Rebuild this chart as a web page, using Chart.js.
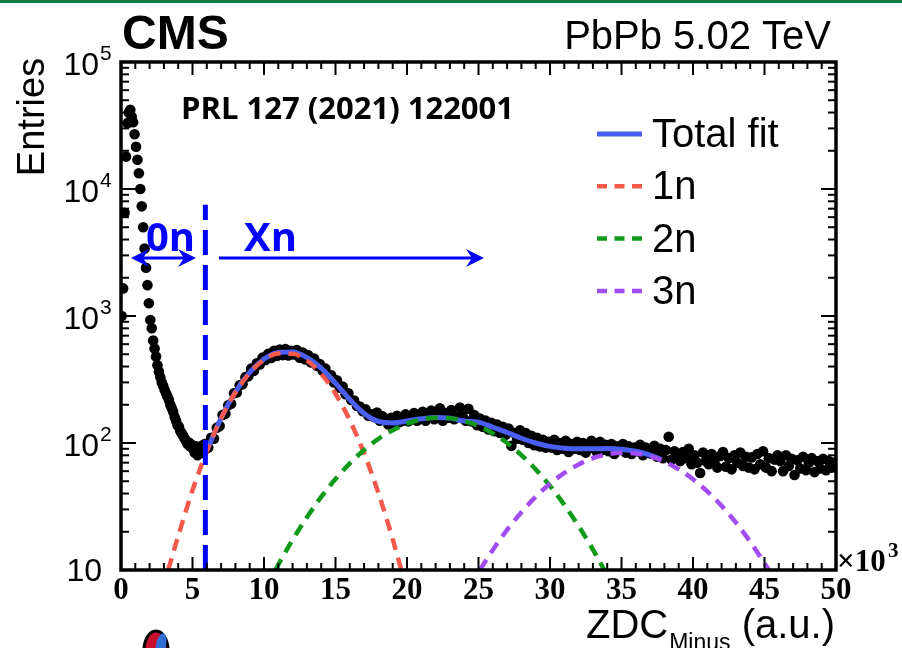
<!DOCTYPE html>
<html lang="en">
<head>
<meta charset="UTF-8">
<title>ZDC Minus - PbPb 5.02 TeV</title>
<script src="https://cdn.jsdelivr.net/npm/chart.js"></script>
<style>
  html, body { margin: 0; padding: 0; background: #fff; }
  body { width: 902px; height: 648px; overflow: hidden; position: relative; }
  canvas { position: absolute; left: 0; top: 0; }
  #topbar { position: absolute; left: 0; top: 0; width: 902px; height: 3px; background: #0b7d3e; z-index: 2; }
</style>
</head>
<body>
<canvas id="zdcChart" width="902" height="648"></canvas>
<div id="topbar"></div>
<script>
// ZDC minus-side energy, x in units of 10^3 (a.u.)
// 0 - 6k : bins of 0.1k
const lowBinStart = 0.05;
const lowBinWidth = 0.1;
const lowCounts = [
  1000, 1650, 6500, 18000, 33000, 40000, 42000, 37000, 33500, 27000,
  21500, 17000, 13300, 10000, 7300, 5000, 3400, 2400, 1750, 1260,
  930, 800, 640, 555, 480, 410, 365, 330, 300, 282,
  262, 246, 232, 218, 200, 188, 176, 160, 150, 138,
  134, 124, 119, 114, 108, 104, 98, 101, 94, 97,
  90, 84, 94, 80, 88, 83, 95, 85, 98, 90
];
// 6k - 50k : bins of 0.2k
const highBinStart = 6.1;
const highBinWidth = 0.2;
const highCounts = [
  92, 110, 108, 132, 136,   166, 170, 198, 204, 246,
  250, 285, 290, 330, 336,  385, 370, 425, 415, 470,
  450, 505, 468, 532, 485,  545, 492, 550, 488, 532,
  498, 540, 470, 515, 455,  490, 430, 462, 405, 418,
  372, 385, 335, 342, 300,  312, 272, 278, 242, 246,
  218, 216, 196, 194, 178,  184, 164, 168, 160, 174,
  150, 162, 152, 140, 158,  140, 164, 146, 150, 168,
  148, 156, 172, 150, 162,  176, 150, 160, 180, 154,
  168, 188, 150, 172, 158,  182, 154, 160, 190, 162,
  150, 186, 148, 166, 138,  156, 134, 150, 128, 144,
  124, 140, 120, 134, 116,  130, 95, 120, 108, 126,
  106, 120, 100, 114, 96,   110, 94, 106, 92, 102,
  92, 106, 88, 100, 90,     104, 85, 98, 90, 102,
  88, 100, 84, 96, 104,     90, 84, 102, 88, 97,
  86, 98, 82, 94, 88,       98, 84, 94, 82, 92,
  86, 97, 80, 92, 84,       82, 95, 78, 90, 76,
  88, 112, 74, 86, 78,      72, 85, 76, 90, 68,
  80, 70, 58, 84, 72,       68, 82, 70, 64, 79,
  85, 65, 76, 62, 80,       70, 84, 66, 78, 64,
  77, 62, 82, 68, 86,       64, 76, 60, 74, 80,
  72, 60, 80, 66, 75,       56, 73, 63, 78, 61,
  70, 76, 59, 72, 63,       75, 61, 72, 64, 70
];

// fit curves
const totalX = [6, 7, 8, 9, 10, 11, 12, 13, 14, 15, 16, 17, 18, 19, 20, 21, 22, 23, 24, 25, 26, 27, 28, 29, 30, 31, 32, 33, 34, 35, 36, 37, 37.8];
const totalY = [87, 157, 252, 360, 458, 517, 521, 472, 388, 296, 220, 171, 148, 144, 149, 155, 159, 157, 149, 146, 133, 121, 109, 100, 94, 91, 90, 90, 90.5, 89.4, 86, 80.3, 74];
const oneNX = [3.3, 4, 5, 6, 7, 8, 9, 10, 11, 12, 13, 14, 15, 16, 17, 18, 19, 19.6];
const oneNY = [10, 18.5, 42.4, 86.3, 156, 250, 356, 451, 506, 504, 446, 350, 244, 151, 83, 40.4, 17.5, 10];
const twoNX = [10.8, 11, 12, 13, 14, 15, 16, 17, 18, 19, 20, 21, 22, 23, 24, 25, 26, 27, 28, 29, 30, 31, 32, 33, 33.8];
const twoNY = [10, 11, 17.3, 26, 37.6, 52, 69.2, 88.1, 107.7, 126, 142, 153, 158, 157, 149, 136, 119, 100, 80.4, 62, 45.9, 32.6, 22.2, 14.5, 10];
const threeNX = [25.1, 26, 27, 28, 29, 30, 31, 32, 33, 34, 35, 36, 37, 38, 39, 40, 41, 42, 43, 44, 45, 45.3];
const threeNY = [10, 14.4, 20.7, 28.5, 37.7, 47.8, 58.1, 67.8, 75.9, 81.5, 83.9, 82.8, 78.5, 71.3, 62.1, 51.9, 41.6, 32, 23.6, 16.7, 11.3, 10];

// 0n / Xn separation
const cutX = 5.9;
const cutTop = 7500;
const arrowLevel = 2860;

const xTicks = [0, 5, 10, 15, 20, 25, 30, 35, 40, 45, 50];
const yDecades = [1, 2, 3, 4, 5];

const BLUE = '#0000ff';
const FIT_BLUE = '#4b5ef2';
const RED = '#f5594c';
const GREEN = '#119a1a';
const PURPLE = '#a24cf4';
const DASH = [12, 8];

const zip = (xs, ys) => xs.map((x, i) => ({ x: x, y: ys[i] }));
const dataPoints = lowCounts.map((c, i) => ({ x: lowBinStart + i * lowBinWidth, y: c }))
  .concat(highCounts.map((c, i) => ({ x: highBinStart + i * highBinWidth, y: c })));

const legendRows = [
  { label: 'Total fit', color: FIT_BLUE, dash: [], width: 5 },
  { label: '1n', color: RED, dash: [10, 7.5], width: 4.5 },
  { label: '2n', color: GREEN, dash: [10, 7.5], width: 4.5 },
  { label: '3n', color: PURPLE, dash: [10, 7.5], width: 4.5 }
];

function seg(ctx, x1, y1, x2, y2) {
  ctx.beginPath();
  ctx.moveTo(x1, y1);
  ctx.lineTo(x2, y2);
  ctx.stroke();
}

function head(ctx, x, y, dir) {
  // dir = 1 points right, -1 points left
  ctx.beginPath();
  ctx.moveTo(x, y);
  ctx.lineTo(x - dir * 18, y - 9);
  ctx.lineTo(x - dir * 12, y);
  ctx.lineTo(x - dir * 18, y + 9);
  ctx.closePath();
  ctx.fill();
}

const overlay = {
  id: 'overlay',
  afterDraw(chart) {
    const ctx = chart.ctx;
    const xs = chart.scales.x;
    const ys = chart.scales.y;
    const a = chart.chartArea;
    ctx.save();

    // frame + inward ticks
    ctx.strokeStyle = '#000';
    ctx.lineWidth = 3.5;
    ctx.strokeRect(a.left, a.top, a.right - a.left, a.bottom - a.top);
    ctx.lineWidth = 2;
    for (let v = 0; v <= 50; v++) {
      const px = xs.getPixelForValue(v);
      const len = v % 5 === 0 ? 13 : 7;
      seg(ctx, px, a.bottom, px, a.bottom - len);
      seg(ctx, px, a.top, px, a.top + len);
    }
    for (let e = 1; e <= 4; e++) {
      for (let m = 1; m <= 9; m++) {
        const py = ys.getPixelForValue(m * Math.pow(10, e));
        const len = m === 1 ? 15 : 8;
        seg(ctx, a.left, py, a.left + len, py);
        seg(ctx, a.right, py, a.right - len, py);
      }
    }

    // y labels
    ctx.fillStyle = '#000';
    yDecades.forEach(e => {
      const py = ys.getPixelForValue(Math.pow(10, e));
      ctx.font = '32px "Liberation Sans", Arial, sans-serif';
      ctx.textBaseline = 'middle';
      ctx.textAlign = 'right';
      if (e === 1) {
        ctx.fillText('10', 102, py + 2);
      } else {
        ctx.fillText('10', 99, py + 4);
        ctx.font = '21px "Liberation Sans", Arial, sans-serif';
        ctx.textAlign = 'left';
        ctx.fillText(String(e), 100, py - 8);
      }
    });

    // x labels
    ctx.font = 'bold 31px "Liberation Serif", "Times New Roman", serif';
    ctx.textAlign = 'center';
    ctx.textBaseline = 'top';
    xTicks.forEach(v => ctx.fillText(String(v), xs.getPixelForValue(v), a.bottom + 5));
    ctx.textAlign = 'left';
    ctx.textBaseline = 'alphabetic';
    ctx.fillText('\u00d710', 837, 571);
    ctx.font = 'bold 21px "Liberation Serif", "Times New Roman", serif';
    ctx.fillText('3', 888, 557);

    // axis titles
    ctx.font = '40px "Liberation Sans", Arial, sans-serif';
    ctx.textAlign = 'right';
    ctx.fillText('(a.u.)', 835, 638);
    const auW = ctx.measureText('(a.u.) ').width;
    ctx.font = '23px "Liberation Sans", Arial, sans-serif';
    ctx.fillText('Minus', 835 - auW, 650);
    const minW = ctx.measureText('Minus').width;
    ctx.font = '40px "Liberation Sans", Arial, sans-serif';
    ctx.fillText('ZDC', 835 - auW - minW - 1, 638);

    ctx.save();
    ctx.translate(44, 117);
    ctx.rotate(-Math.PI / 2);
    ctx.textAlign = 'center';
    ctx.font = '38px "Liberation Sans", Arial, sans-serif';
    ctx.fillText('Entries', 0, 0);
    ctx.restore();

    // header
    ctx.textAlign = 'left';
    ctx.font = 'bold 48px "Liberation Sans", Arial, sans-serif';
    ctx.fillText('CMS', 122, 49);
    ctx.textAlign = 'right';
    ctx.font = '40px "Liberation Sans", Arial, sans-serif';
    ctx.fillText('PbPb 5.02 TeV', 831, 49);

    ctx.textAlign = 'left';
    ctx.font = 'bold 31px "Open Sans", "DejaVu Sans", sans-serif';
    ctx.fillText('PRL 127 (2021) 122001', 181, 119);

    // legend
    legendRows.forEach((r, i) => {
      const y = 134 + i * 52.3;
      ctx.strokeStyle = r.color;
      ctx.lineWidth = r.width;
      ctx.setLineDash(r.dash);
      seg(ctx, 597, y, 642, y);
      ctx.setLineDash([]);
      ctx.fillStyle = '#000';
      ctx.font = '40px "Liberation Sans", Arial, sans-serif';
      ctx.textBaseline = 'middle';
      ctx.fillText(r.label, 652, y + 2);
    });

    // 0n / Xn annotations
    const ay = ys.getPixelForValue(arrowLevel);
    ctx.strokeStyle = BLUE;
    ctx.fillStyle = BLUE;
    ctx.lineWidth = 3;
    seg(ctx, 134, ay, 192, ay);
    head(ctx, 131, ay, -1);
    head(ctx, 196, ay, 1);
    seg(ctx, 219, ay, 476, ay);
    head(ctx, 484, ay, 1);
    ctx.textBaseline = 'alphabetic';
    ctx.font = 'bold 40px "Open Sans", "DejaVu Sans", sans-serif';
    ctx.fillText('0n', 146, 251);
    ctx.fillText('Xn', 244, 251);

    // cropped experiment logo at the bottom edge
    ctx.lineWidth = 3;
    ctx.strokeStyle = '#000';
    ctx.fillStyle = '#c8102e';
    ctx.beginPath();
    ctx.ellipse(156, 650, 12, 19, 0, 0, Math.PI * 2);
    ctx.fill();
    ctx.stroke();
    ctx.fillStyle = '#2f6fd6';
    ctx.beginPath();
    ctx.ellipse(161, 645, 5, 12, 0.2, 0, Math.PI * 2);
    ctx.fill();

    ctx.restore();
  }
};

new Chart(document.getElementById('zdcChart').getContext('2d'), {
  type: 'scatter',
  data: {
    datasets: [
      { label: 'cut', data: zip([cutX, cutX], [10, cutTop]), showLine: true, borderColor: BLUE, borderWidth: 5, borderDash: [25, 10], pointRadius: 0, order: 0 },
      { label: '3n', data: zip(threeNX, threeNY), showLine: true, borderColor: PURPLE, borderWidth: 4.5, borderDash: DASH, pointRadius: 0, cubicInterpolationMode: 'monotone', order: 1 },
      { label: '2n', data: zip(twoNX, twoNY), showLine: true, borderColor: GREEN, borderWidth: 4.5, borderDash: DASH, pointRadius: 0, cubicInterpolationMode: 'monotone', order: 2 },
      { label: '1n', data: zip(oneNX, oneNY), showLine: true, borderColor: RED, borderWidth: 4.5, borderDash: DASH, pointRadius: 0, cubicInterpolationMode: 'monotone', order: 3 },
      { label: 'Total fit', data: zip(totalX, totalY), showLine: true, borderColor: FIT_BLUE, borderWidth: 5, pointRadius: 0, cubicInterpolationMode: 'monotone', order: 4 },
      { label: 'Data', data: dataPoints, showLine: false, pointRadius: 5.3, pointBackgroundColor: '#000', pointBorderWidth: 0, order: 5 }
    ]
  },
  options: {
    responsive: false,
    animation: false,
    devicePixelRatio: 1,
    layout: { padding: { left: 121, right: 66, top: 62, bottom: 78 } },
    plugins: { legend: { display: false }, tooltip: { enabled: false } },
    scales: {
      x: { type: 'linear', min: 0, max: 50, display: false },
      y: { type: 'logarithmic', min: 10, max: 100000, display: false }
    }
  },
  plugins: [overlay]
});
</script>
</body>
</html>
